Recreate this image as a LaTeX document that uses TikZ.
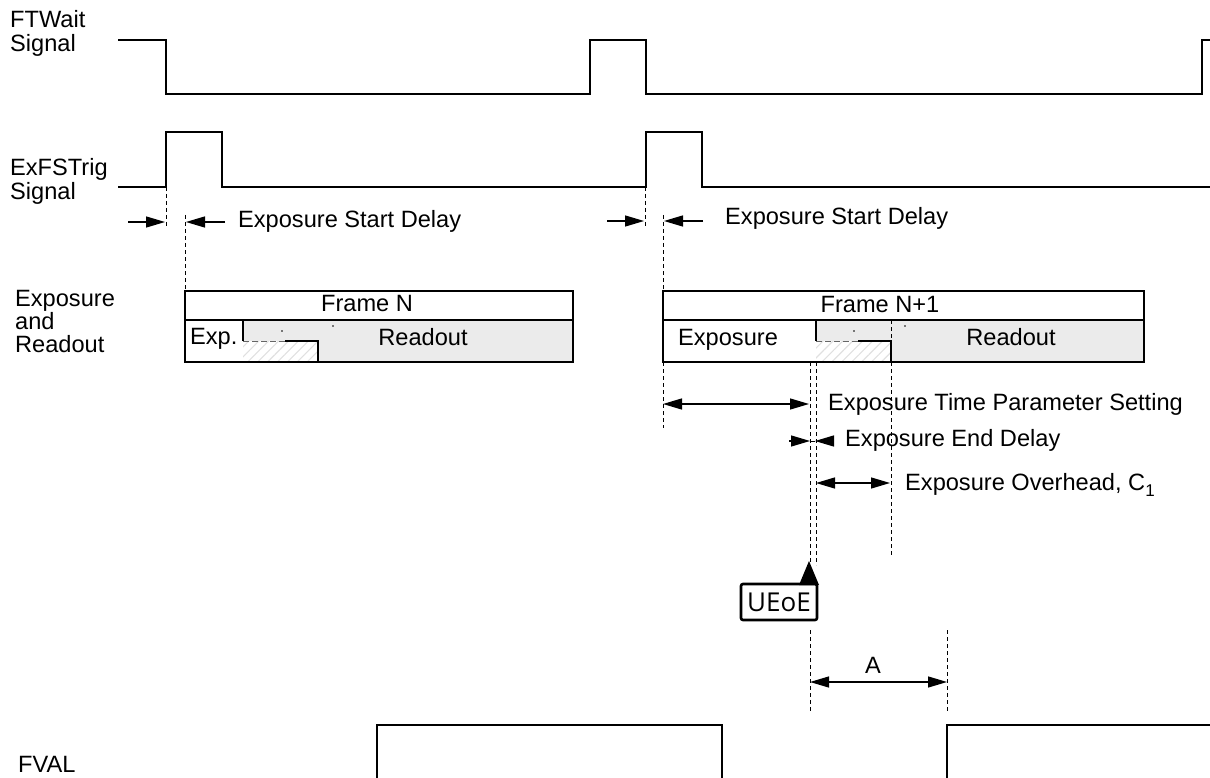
\documentclass[tikz,border=0pt]{standalone}
\usepackage{fontspec}
\setmainfont{Liberation Sans}
\newfontfamily\uifont{Open Sans}
\usetikzlibrary{arrows.meta,patterns.meta}

\tikzset{
  sig/.style={line width=2.8pt, line join=miter},
  guide/.style={line width=0.9pt, dash pattern=on 4pt off 3pt},
  frame/.style={line width=1.9pt},
  tip/.tip={Triangle[length=19pt,width=11pt]},
  dimr/.style={line width=1.3pt, -tip},
  dimb/.style={line width=1.3pt, tip-tip},
  lbl/.style={inner sep=0pt, anchor=base west, font=\fontsize{23.6}{26}\selectfont},
  ctr/.style={inner sep=0pt, anchor=base, font=\fontsize{23.6}{26}\selectfont},
  busy/.style={fill=black!8},
  hatch/.style={pattern={Lines[angle=45,distance=7pt,line width=1.1pt]}, pattern color=black!12},
  stepdash/.style={line width=1pt, draw=black!60, dash pattern=on 6pt off 3pt},
}

\begin{document}
\begin{tikzpicture}[x=1pt,y=-1pt]
\useasboundingbox (0,0) rectangle (1210,778);

% ---- signal names
\node[lbl] (ftw1) at (10,28) {FTWait};
\node[lbl] (ftw2) at (10,52) {Signal};
\node[lbl] (trg1) at (10,176) {ExFSTrig};
\node[lbl] (trg2) at (10,200) {Signal};
\node[lbl] (exr1) at (15,306) {Exposure};
\node[lbl] (exr2) at (15,329) {and};
\node[lbl] (exr3) at (15,352) {Readout};
\node[lbl] (fval) at (18,772) {FVAL};

% ---- waveforms
\draw[sig] (118,40) -- (166,40) -- (166,94) -- (590,94) -- (590,40) -- (646,40)
  -- (646,94) -- (1202,94) -- (1202,40) -- (1214,40);
\draw[sig] (118,187) -- (166,187) -- (166,132) -- (222,132) -- (222,187) -- (646,187)
  -- (646,132) -- (702,132) -- (702,187) -- (1214,187);
\draw[sig] (377,782) -- (377,725) -- (722,725) -- (722,782);
\draw[sig] (947,782) -- (947,725) -- (1214,725);

% ---- frame N
\fill[busy] (243,320) rectangle (573,341);
\fill[busy] (318,341) rectangle (573,362);
\fill[hatch] (243,341) rectangle (318,362);
\draw[frame] (185,291) rectangle (573,362);
\draw[frame] (185,320) -- (573,320);
\draw[frame] (243,320) -- (243,341);
\draw[stepdash] (243,341) -- (285,341);
\draw[frame] (285,341) -- (318,341) -- (318,362);
\fill (282,331) circle (0.9pt) (333,326) circle (0.9pt);
\node[ctr] (fN) at (367,311) {Frame N};
\node[lbl] (expN) at (190,344) {Exp.};
\node[ctr] (rdN) at (423,345) {Readout};

% ---- frame N+1
\fill[busy] (816,320) rectangle (1144,341);
\fill[busy] (891,341) rectangle (1144,362);
\fill[hatch] (816,341) rectangle (891,362);
\draw[frame] (663,291) rectangle (1144,362);
\draw[frame] (663,320) -- (1144,320);
\draw[frame] (816,320) -- (816,341);
\draw[stepdash] (816,341) -- (858,341);
\draw[frame] (858,341) -- (891,341) -- (891,362);
\fill (854,331) circle (0.9pt) (905,326) circle (0.9pt);
\node[ctr] (fN1) at (880,312) {Frame N+1};
\node[lbl] (expN1) at (678,345) {Exposure};
\node[ctr] (rdN1) at (1011,345) {Readout};

% ---- guide lines
\draw[guide] (166,187) -- (166,228);
\draw[guide] (185,215) -- (185,291);
\draw[guide] (645,187) -- (645,228);
\draw[guide] (663,215) -- (663,291);
\draw[guide] (663,362) -- (663,428);
\draw[guide] (810,362) -- (810,562);
\draw[guide] (816,362) -- (816,565);
\draw[guide] (891,320) -- (891,341);
\draw[guide] (891,362) -- (891,557);
\draw[guide] (810,630) -- (810,713);
\draw[guide] (947,630) -- (947,713);

% ---- dimension arrows
\coordinate (s1a) at (128,222); \coordinate (s1b) at (165,222);
\coordinate (s1c) at (225,222); \coordinate (s1d) at (186,222);
\draw[dimr] (s1a) -- (s1b);
\draw[dimr] (s1c) -- (s1d);
\node[lbl] (esd1) at (238,228) {Exposure Start Delay};

\coordinate (s2a) at (607,221); \coordinate (s2b) at (644,221);
\coordinate (s2c) at (703,221); \coordinate (s2d) at (664,221);
\draw[dimr] (s2a) -- (s2b);
\draw[dimr] (s2c) -- (s2d);
\node[lbl] (esd2) at (725,225) {Exposure Start Delay};

\coordinate (tp1) at (663,404); \coordinate (tp2) at (809,404);
\draw[dimb] (tp1) -- (tp2);
\node[lbl] (etps) at (828,410) {Exposure Time Parameter Setting};

\coordinate (ed1) at (789,441); \coordinate (ed2) at (810,441);
\coordinate (ed3) at (833,441); \coordinate (ed4) at (815,441);
\draw[line width=1pt] (ed2) -- (ed4);
\draw[dimr] (ed1) -- (ed2);
\draw[dimr] (ed3) -- (ed4);
\node[lbl] (eed) at (845,446) {Exposure End Delay};

\coordinate (oh1) at (816,483); \coordinate (oh2) at (890,483);
\draw[dimb] (oh1) -- (oh2);
\node[lbl] (eoh) at (905,490) {Exposure Overhead, C\raisebox{-6pt}{\fontsize{17}{17}\selectfont 1}};

\coordinate (a1) at (810,682); \coordinate (a2) at (947,682);
\draw[dimb] (a1) -- (a2);
\node[ctr] (alab) at (873,673) {A};

% ---- UEoE marker
\draw[line width=2.6pt, rounded corners=2pt] (741,584) rectangle (817,620);
\fill (799,585) -- (809,561) -- (819,585) -- cycle;
\node[inner sep=0pt, font=\uifont\fontsize{26}{26}\selectfont] (ueoe) at (779,602) {UEoE};
\end{tikzpicture}
\end{document}
